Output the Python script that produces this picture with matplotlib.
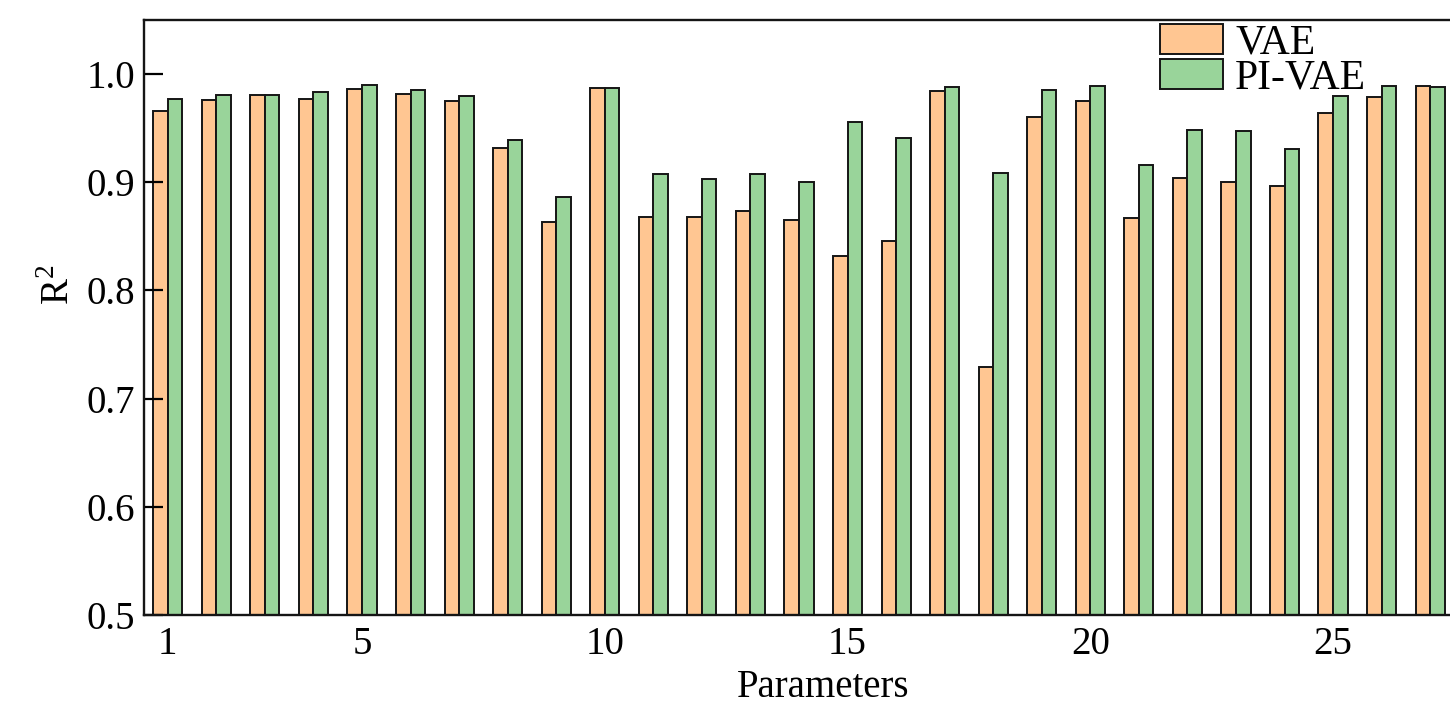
import numpy as np
import matplotlib
matplotlib.use('Agg')
import matplotlib.pyplot as plt

plt.rcParams['font.family'] = ['Liberation Serif', 'DejaVu Serif']
plt.rcParams['mathtext.fontset'] = 'custom'
plt.rcParams['mathtext.rm'] = 'Liberation Serif'

# R^2 per parameter
params = np.arange(1, 28)
vae = [0.966, 0.976, 0.981, 0.977, 0.986, 0.982, 0.975, 0.932, 0.863, 0.987,
       0.868, 0.868, 0.873, 0.865, 0.832, 0.846, 0.984, 0.729, 0.960, 0.975,
       0.867, 0.904, 0.900, 0.897, 0.964, 0.979, 0.989]
pi_vae = [0.977, 0.981, 0.981, 0.983, 0.990, 0.985, 0.980, 0.939, 0.886, 0.987,
          0.908, 0.903, 0.908, 0.900, 0.956, 0.941, 0.988, 0.909, 0.985, 0.989,
          0.916, 0.948, 0.947, 0.931, 0.980, 0.989, 0.988]
xticks = [1, 5, 10, 15, 20, 25]
yticks = [0.5, 0.6, 0.7, 0.8, 0.9, 1.0]

fig = plt.figure(figsize=(14.5, 7.07), dpi=100)
ax = fig.add_axes([143.5 / 1450, 1 - 615 / 707, (1503 - 143.5) / 1450, (615 - 20) / 707])

w = 0.3
ax.bar(params - w / 2, vae, w, bottom=0, color='#FFC692', edgecolor='#151515',
       linewidth=1.4, label='VAE')
ax.bar(params + w / 2, pi_vae, w, bottom=0, color='#99D49A', edgecolor='#151515',
       linewidth=1.4, label='PI-VAE')

ax.set_xlim(0.5, 28.5)
ax.set_ylim(0.5, 1.05)
ax.set_xticks(xticks)
ax.set_yticks(yticks)
ax.set_yticklabels([f'{v:.1f}' for v in yticks])
ax.tick_params(axis='y', direction='in', length=14, width=1.6, labelsize=28, pad=6)
ax.tick_params(axis='x', length=0, labelsize=28, pad=8)
for s in ['left', 'bottom', 'top', 'right']:
    ax.spines[s].set_linewidth(1.7)
    ax.spines[s].set_color('#151515')

ax.set_xlabel('Parameters', fontsize=28, labelpad=4)
ax.set_ylabel(r'$\mathrm{R}^2$', fontsize=28)
ax.yaxis.set_label_coords(-0.048, 0.555)

ax.legend(loc='upper left', bbox_to_anchor=(1160 / 1450, 1 - 24 / 707),
          bbox_transform=fig.transFigure, frameon=False, fontsize=30,
          handlelength=1.5, handleheight=0.72, handletextpad=0.3,
          labelspacing=-0.08, borderpad=0, borderaxespad=0)

fig.savefig('out.png', dpi=100)
